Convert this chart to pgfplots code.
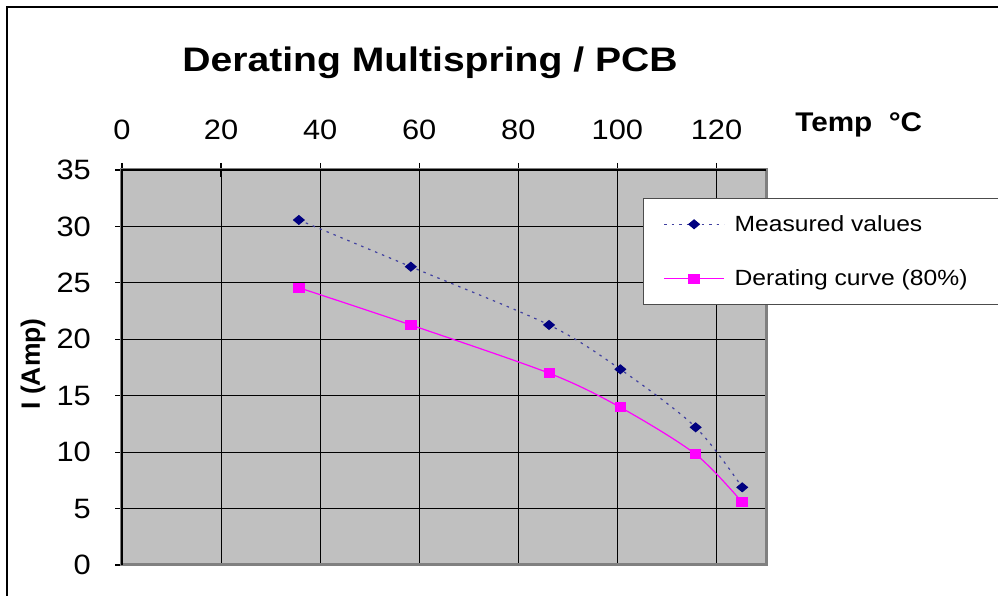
\documentclass[border=0pt]{standalone}
\usepackage{pgfplots}
\pgfplotsset{compat=1.18}
\usepackage{fontspec}
\setmainfont{Liberation Sans}[FakeStretch=1.12]
\newfontfamily\titlefont{Liberation Sans}[FakeStretch=1.15]
\newfontfamily\tickfont{Liberation Sans}[FakeStretch=1.1]
\newfontfamily\ylabfont{Liberation Sans}
\definecolor{plotgray}{HTML}{C0C0C0}
\definecolor{bordergray}{HTML}{808080}
\definecolor{measured}{HTML}{000080}
\definecolor{derating}{HTML}{FF00FF}
\begin{document}
\begin{tikzpicture}
\draw[line width=2pt] (7pt,0pt) -- (7pt,589pt) -- (998pt,589pt);
\node[anchor=base, font=\titlefont\bfseries\fontsize{34}{40}\selectfont] at (430pt,524pt) {Derating Multispring / PCB};
\begin{axis}[
  at={(122pt,31pt)}, anchor=south west,
  scale only axis, width=644pt, height=395pt,
  xmin=0, xmax=130, ymin=0, ymax=35,
  xtick={0,20,...,120}, ytick={0,5,...,35},
  xtick pos=top, xticklabel pos=top, ytick pos=left,
  tick align=center, major tick length=14pt,
  tick style={black, line width=1.2pt},
  grid=major, major grid style={black, line width=1.1pt},
  axis line style={draw=none},
  axis background/.style={fill=plotgray},
  /pgf/number format/assume math mode=true,
  tick label style={font=\tickfont\fontsize{28}{32}\selectfont},
  xticklabel style={anchor=base, inner sep=0pt, yshift=23pt},
  yticklabel style={anchor=east, inner sep=0pt, xshift=-24pt},
  xlabel={Temp~~°C},
  xlabel style={at={(rel axis cs:1.144,1.114)}, anchor=center, font=\tickfont\bfseries\fontsize{27}{32}\selectfont},
  ylabel={I (Amp)},
  ylabel style={at={(rel axis cs:-0.138,0.509)}, anchor=center, font=\ylabfont\bfseries\fontsize{26.5}{30}\selectfont},
  legend style={at={(rel axis cs:0.809,0.929)}, anchor=north west, draw=black!70, line width=1pt, fill=white,
    font=\fontsize{22}{26}\selectfont, inner xsep=20pt, inner ysep=17pt, row sep=37pt,
    nodes={inner sep=0pt}, /tikz/every odd column/.append style={column sep=10pt}},
  legend cell align=left,
  legend image code/.code={\draw[mark repeat=2, mark phase=2, #1] plot coordinates {(0pt,0pt) (30pt,0pt) (60pt,0pt)};},
  clip=false,
]
\addplot[measured!75, line width=1.2pt, dash pattern=on 2.5pt off 5pt, smooth,
  mark=diamond*, mark size=4.3pt, mark options={solid, fill=measured, draw=measured, xscale=1.6}]
  coordinates {(35.7,30.57) (58.3,26.43) (86.2,21.27) (100.6,17.34) (115.8,12.2) (125.2,6.88)};
\addlegendentry{Measured values}
\addplot[derating, line width=1.2pt, smooth,
  mark=square*, mark size=4.4pt, mark options={solid, fill=derating, draw=derating, xscale=1.18}]
  coordinates {(35.7,24.57) (58.3,21.27) (86.3,16.98) (100.6,13.97) (115.8,9.81) (125.2,5.55)};
\addlegendentry{Derating curve (80\%)\hspace*{16pt}}
\draw[bordergray, line width=3pt] (rel axis cs:0,0) rectangle (rel axis cs:1,1);
\draw[black, line width=1.2pt] (rel axis cs:0,0) -- (rel axis cs:0,1) -- (rel axis cs:1,1);
\end{axis}
\pgfresetboundingbox
\useasboundingbox (0pt,0pt) rectangle (998pt,596pt);
\end{tikzpicture}
\end{document}
